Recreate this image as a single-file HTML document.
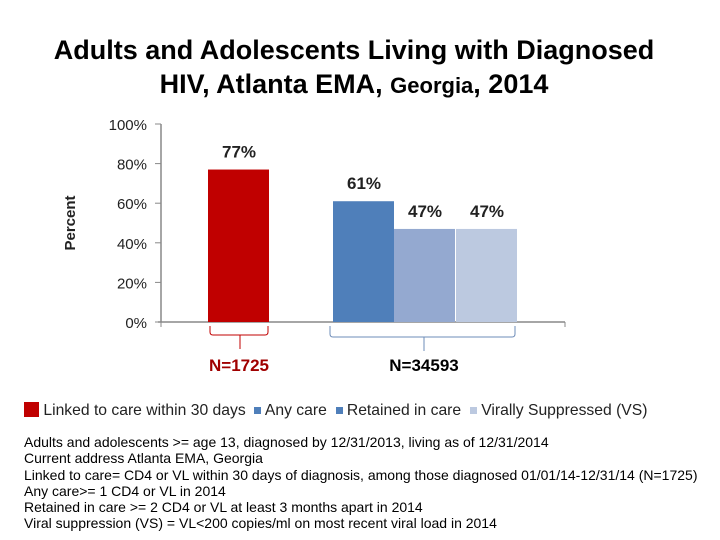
<!DOCTYPE html>
<html><head><meta charset="utf-8"><style>
body{margin:0;width:720px;height:540px;background:#fff;font-family:"Liberation Sans","DejaVu Sans",sans-serif;overflow:hidden;position:relative}
.t{position:absolute;white-space:nowrap}
</style></head><body>
<div class="t" style="left:0;width:708px;top:33px;text-align:center;font-size:27px;font-weight:bold;line-height:34px;color:#000">Adults and Adolescents Living with Diagnosed<br>HIV, Atlanta EMA, <span style="font-size:22px">Georgia</span>, 2014</div>
<svg width="720" height="540" style="position:absolute;left:0;top:0">
<g id="axes"></g><g id="bars"></g>
</svg>
<div class="t" style="left:24px;top:402px;font-size:15.7px;color:#222">
<span style="display:inline-block;width:15px;height:15px;background:#c00000;vertical-align:-2px"></span> Linked to care within 30 days &nbsp;<span style="display:inline-block;width:7px;height:7px;background:#4f7fba;vertical-align:1px"></span> Any care &nbsp;<span style="display:inline-block;width:7px;height:7px;background:#4f7fba;vertical-align:1px"></span> Retained in care &nbsp;<span style="display:inline-block;width:7px;height:7px;background:#bcc9e0;vertical-align:1px"></span> Virally Suppressed (VS)</div>
<div class="t" style="left:24px;top:434px;font-size:14px;line-height:16.3px;color:#000">Adults and adolescents &gt;= age 13, diagnosed by 12/31/2013, living as of 12/31/2014<br>Current address Atlanta EMA, Georgia<br>Linked to care= CD4 or VL within 30 days of diagnosis, among those diagnosed 01/01/14-12/31/14 (N=1725)<br>Any care&gt;= 1 CD4 or VL in 2014<br>Retained in care &gt;= 2 CD4 or VL at least 3 months apart in 2014<br>Viral suppression (VS) = VL&lt;200 copies/ml on most recent viral load in 2014</div>
<script>
const categories=["Linked to care within 30 days","Any care","Retained in care","Virally Suppressed (VS)"];
const values=[77,61,47,47];
const ticks=[0,20,40,60,80,100];
const colors=["#c00000","#4f7fba","#94a9d0","#bcc9e0"];
const ns="http://www.w3.org/2000/svg";
const y0=322,y100=124;
const y=v=>y0-(y0-y100)*v/100;
const xs=[208,333,394,456],bw=61;
function mk(t,a,p){const e=document.createElementNS(ns,t);for(const k in a)e.setAttribute(k,a[k]);p.appendChild(e);return e;}
const ax=document.getElementById('axes'),bg=document.getElementById('bars');
let l=mk('line',{x1:161,y1:y(100),x2:161,y2:y0,stroke:'#888','stroke-width':1.5},ax);

l=mk('line',{x1:158,y1:y0,x2:565,y2:y0,stroke:'#888','stroke-width':1.5},ax);

mk('line',{x1:161,y1:y0,x2:161,y2:y0+5,stroke:'#888'},ax);mk('line',{x1:565,y1:y0,x2:565,y2:y0+5,stroke:'#888'},ax);
ticks.forEach(t=>{mk('line',{x1:155,y1:y(t),x2:161,y2:y(t),stroke:'#888'},ax);
const tx=mk('text',{x:147,y:y(t)+6,'text-anchor':'end','font-size':15,fill:'#222'},ax);tx.textContent=t+'%';
});
const yt=mk('text',{transform:'translate(75,223) rotate(-90)','text-anchor':'middle','font-size':15,'font-weight':'bold',fill:'#222'},ax);
yt.textContent='Percent';
values.forEach((v,i)=>{const r=mk('rect',{x:xs[i],y:y(v),width:bw,height:y0-y(v),fill:colors[i]},bg);

const t=mk('text',{x:xs[i]+31,y:y(v)-12,'text-anchor':'middle','font-size':17,'font-weight':'bold',fill:'#222'},bg);
t.textContent=v+'%';});
mk('path',{d:'M210,326 v6 q0,3 3,3 h52 q3,0 3,-3 v-6 M240,335 v14',stroke:'#c00000',fill:'none','stroke-width':1},bg);
mk('path',{d:'M330,326 v8 q0,3 3,3 h179 q3,0 3,-3 v-8 M424,337 v14',stroke:'#6e8cb8',fill:'none','stroke-width':1},bg);
let n=mk('text',{x:239,y:371,'text-anchor':'middle','font-size':17,'font-weight':'bold',fill:'#a00000'},bg);n.textContent='N=1725';

n=mk('text',{x:424,y:371,'text-anchor':'middle','font-size':17,'font-weight':'bold',fill:'#000'},bg);n.textContent='N=34593';

</script>
</body></html>
